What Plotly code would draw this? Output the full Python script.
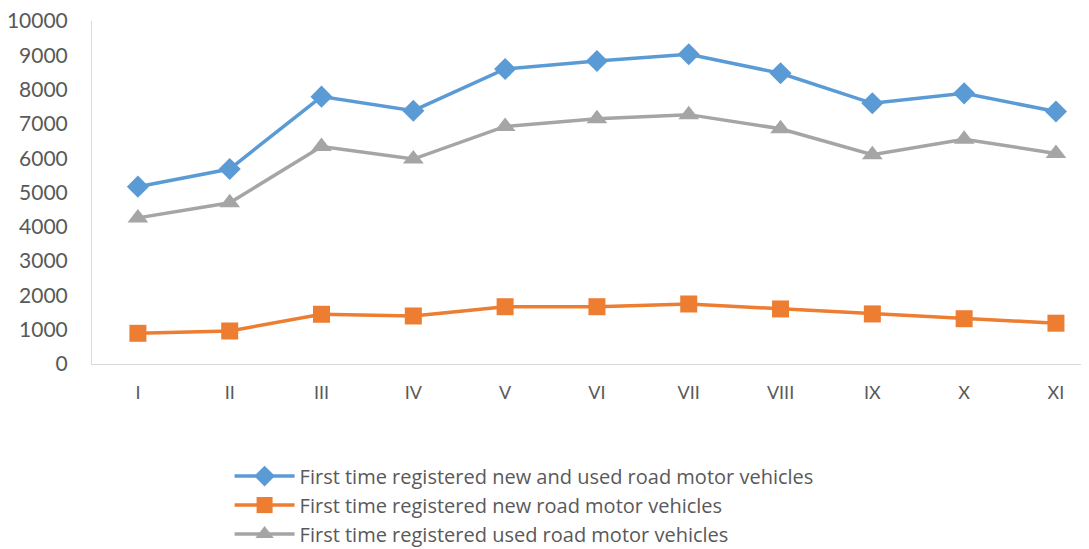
import plotly.graph_objects as go

months = ["I", "II", "III", "IV", "V", "VI", "VII", "VIII", "IX", "X", "XI"]
new_and_used = [5170, 5685, 7795, 7385, 8600, 8835, 9030, 8475, 7600, 7890, 7360]
new_only = [895, 962, 1450, 1400, 1670, 1670, 1750, 1605, 1460, 1320, 1190]
used_only = [4260, 4700, 6340, 5975, 6925, 7150, 7270, 6860, 6100, 6550, 6140]

names = [
    "First time registered new and used road motor vehicles",
    "First time registered new road motor vehicles",
    "First time registered used road motor vehicles",
]
colors = ["#5B9BD5", "#ED7D31", "#A5A5A5"]
symbols = ["diamond", "square", "triangle-up"]
sizes = [17, 17, 18]
series = [new_and_used, new_only, used_only]

fig = go.Figure()
for name, vals, col, sym, sz in zip(names, series, colors, symbols, sizes):
    fig.add_trace(go.Scatter(
        x=list(range(len(months))), y=vals, name=name, mode="lines+markers",
        line=dict(color=col, width=3.5),
        marker=dict(symbol=sym, size=sz, color=col),
    ))

# the page body adds an 8px offset, so the figure is sized 8px smaller
fig.update_layout(
    width=1081, height=541,
    margin=dict(l=84, r=0, t=13, b=185, autoexpand=False),
    paper_bgcolor="white", plot_bgcolor="white",
    font=dict(family="Lato", color="#595959"),
    showlegend=True,
    legend=dict(
        orientation="v", x=0.138, y=-0.270, xanchor="left", yanchor="top",
        font=dict(family="Open Sans", size=20, color="#595959"), itemwidth=60,
        tracegroupgap=0, bgcolor="rgba(0,0,0,0)",
    ),
    xaxis=dict(
        tickmode="array", tickvals=list(range(len(months))), ticktext=months,
        range=[-0.5, 10.36], showgrid=False, zeroline=False,
        showline=True, linecolor="#D9D9D9", linewidth=1, automargin=False,
        ticks="", tickfont=dict(size=18, color="#595959"), ticklabelstandoff=12,
    ),
    yaxis=dict(
        range=[0, 10000], dtick=1000, showgrid=False, zeroline=False,
        showline=True, linecolor="#D9D9D9", linewidth=1, automargin=False,
        ticks="", tickfont=dict(size=21, color="#595959"), ticklabelstandoff=19,
        tickformat="d", ticklabeloverflow="allow",
    ),
)

fig.write_html("out.html")
